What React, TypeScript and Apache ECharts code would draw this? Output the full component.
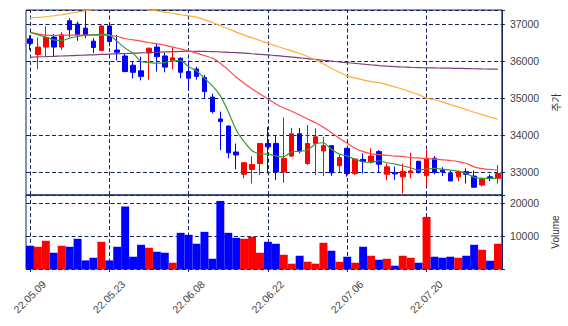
import React, { useEffect, useRef } from "react";
import * as echarts from "echarts";

const dates = [
  "22.05.09", "22.05.10", "22.05.11", "22.05.12", "22.05.13", "22.05.16", "22.05.17", "22.05.18", "22.05.19", "22.05.20",
  "22.05.23", "22.05.24", "22.05.25", "22.05.26", "22.05.27", "22.05.30", "22.05.31", "22.06.02", "22.06.03", "22.06.07",
  "22.06.08", "22.06.09", "22.06.10", "22.06.13", "22.06.14", "22.06.15", "22.06.16", "22.06.17", "22.06.20", "22.06.21",
  "22.06.22", "22.06.23", "22.06.24", "22.06.27", "22.06.28", "22.06.29", "22.06.30", "22.07.01", "22.07.04", "22.07.05",
  "22.07.06", "22.07.07", "22.07.08", "22.07.11", "22.07.12", "22.07.13", "22.07.14", "22.07.15", "22.07.18", "22.07.19",
  "22.07.20", "22.07.21", "22.07.22", "22.07.25", "22.07.26", "22.07.27", "22.07.28", "22.07.29", "22.08.01", "22.08.02",
];

const opens = [
  36600, 36180, 36380, 36650, 36380, 37090, 37000, 36890, 36540, 36290,
  36950, 36300, 36140, 35890, 35740, 36220, 36380, 36140, 36010, 36080,
  35720, 35790, 35560, 35030, 34440, 34250, 33550, 32950, 33080, 33240,
  33780, 33780, 33010, 33440, 34040, 33240, 33780, 33580, 33720, 33180,
  33650, 32970, 33350, 33290, 33560, 32950, 32990, 32880, 32990, 33300,
  32910, 33380, 33060, 32970, 32880, 33020, 32900, 32660, 32880, 32840,
];
const closes = [
  36480, 36380, 36640, 36380, 36710, 36850, 36710, 36720, 36370, 36950,
  36530, 36240, 35720, 35700, 35590, 36350, 36120, 35840, 36090, 35700,
  35540, 35590, 35180, 34640, 34370, 33530, 33470, 33260, 33210, 33780,
  33690, 33010, 33380, 34040, 33580, 33780, 33960, 33720, 32990, 33400,
  32970, 33360, 33290, 33440, 33220, 33150, 32960, 33030, 33040, 33000,
  33380, 33000, 33010, 32770, 33020, 32950, 32600, 32820, 32850, 32970,
];
const lows = [
  36300, 35780, 36120, 36120, 36300, 36650, 36550, 36620, 36220, 36280,
  36400, 36020, 35700, 35540, 35480, 35500, 35720, 35700, 35780, 35540,
  35240, 35500, 35000, 34590, 33600, 33380, 33080, 32840, 32700, 32930,
  32970, 32790, 32720, 33420, 33510, 33200, 32930, 32900, 32900, 33000,
  32880, 32930, 32970, 33240, 33000, 32790, 32800, 32430, 32840, 32970,
  32660, 32950, 32900, 32760, 32760, 32700, 32590, 32620, 32760, 32700,
];
const highs = [
  36700, 36640, 36940, 36730, 36780, 37160, 37070, 37360, 36620, 36960,
  36980, 36710, 36200, 36000, 36120, 36360, 36490, 36220, 36370, 36100,
  36020, 35850, 35630, 35120, 34640, 34260, 33780, 33270, 33440, 33790,
  34220, 34010, 34480, 34200, 34200, 34280, 34190, 33960, 33730, 33500,
  33660, 33380, 33510, 33650, 33600, 33240, 33160, 33240, 33530, 33310,
  33600, 33440, 33140, 33050, 33050, 33110, 33050, 32860, 32950, 33200,
];
const volumes = [
  7060, 6760, 8580, 4940, 7060, 6760, 9180, 2610, 3420, 8270,
  2610, 6760, 18970, 3730, 7360, 6450, 5240, 4940, 1910, 11000,
  10390, 7670, 11300, 3120, 20700, 11000, 9480, 9180, 9790, 4940,
  8270, 7670, 4330, 1610, 4030, 2210, 1610, 7970, 5550, 2210,
  3730, 1910, 6760, 4030, 2820, 3120, 1000, 4030, 3420, 1910,
  15850, 3730, 3420, 3730, 3420, 4030, 7360, 5850, 2520, 7670,
];
const ma5 = [
  36780, 36710, 36650, 36576, 36557, 36622, 36665, 36692, 36711, 36730,
  36711, 36530, 36352, 36217, 35990, 35963, 35946, 35963, 36008, 36017,
  35855, 35738, 35541, 35333, 35063, 34638, 34143, 33827, 33584, 33495,
  33495, 33441, 33422, 33557, 33566, 33603, 33765, 33800, 33622, 33495,
  33441, 33351, 33287, 33270, 33314, 33260, 33224, 33178, 33124, 33062,
  33089, 33108, 33089, 33062, 33035, 32973, 32865, 32838, 32838, 32840,
];
const ma20 = [
  36774, 36738, 36703, 36692, 36700, 36700, 36705, 36705, 36700, 36700,
  36695, 36665, 36611, 36576, 36541, 36503, 36468, 36433, 36379, 36333,
  36279, 36217, 36152, 36081, 35946, 35765, 35568, 35406, 35252, 35117,
  34981, 34846, 34738, 34649, 34549, 34441, 34341, 34216, 34070, 33919,
  33784, 33650, 33560, 33500, 33480, 33460, 33440, 33430, 33400, 33390,
  33370, 33360, 33340, 33320, 33290, 33240, 33150, 33100, 33080, 33060,
];
const ma60 = [
  37163, 37180, 37198, 37225, 37252, 37288, 37325, 37360, 37387, 37410,
  37430, 37440, 37440, 37430, 37410, 37385, 37360, 37325, 37293, 37252,
  37225, 37190, 37117, 37044, 36955, 36873, 36784, 36703, 36630, 36557,
  36487, 36414, 36341, 36279, 36206, 36125, 36035, 35927, 35811, 35703,
  35603, 35541, 35495, 35449, 35422, 35368, 35306, 35243, 35171, 35098,
  35000, 34960, 34900, 34827, 34765, 34692, 34622, 34557, 34495, 34433,
];
const ma120 = [
  36108, 36115, 36122, 36130, 36139, 36147, 36156, 36164, 36172, 36181,
  36190, 36198, 36206, 36215, 36223, 36231, 36240, 36248, 36256, 36262,
  36268, 36265, 36262, 36258, 36248, 36238, 36228, 36217, 36200, 36184,
  36168, 36150, 36130, 36110, 36090, 36068, 36046, 36025, 36003, 35980,
  35960, 35940, 35920, 35900, 35882, 35868, 35855, 35842, 35832, 35826,
  35820, 35817, 35814, 35810, 35806, 35800, 35795, 35790, 35787, 35784,
];
const xTickIndex = [0, 10, 20, 30, 40, 50];
const priceTicks = [33000, 34000, 35000, 36000, 37000];
const volumeTicks = [10000, 20000];

const UP = "#ff0000";
const DOWN = "#0000ff";
const NAVY = "#14235f";
const DASH = [4, 2.5];

export default function App() {
  const ref = useRef<HTMLDivElement>(null);
  useEffect(() => {
    const chart = echarts.init(ref.current!, null, { renderer: "svg" });
    const candle = opens.map((o, i) => [o, closes[i], lows[i], highs[i]]);
    const volData = volumes.map((v, i) => ({
      value: v,
      itemStyle: { color: closes[i] >= opens[i] ? UP : DOWN },
    }));
    const vLines = xTickIndex.map((i) => ({ xAxis: dates[i] }));
    const markLine = {
      silent: true,
      z: 1,
      symbol: ["none", "none"],
      label: { show: false },
      lineStyle: { color: NAVY, type: DASH, width: 1 },
      emphasis: { disabled: true },
      data: vLines,
    };
    const labelStyle = { color: "#444", fontSize: 10.5, fontFamily: "Liberation Sans" };
    const ma = (data: number[], color: string, name: string) => ({
      name,
      type: "line",
      xAxisIndex: 0,
      yAxisIndex: 0,
      data,
      showSymbol: false,
      smooth: 0.2,
      lineStyle: { color, width: 1.2 },
      silent: true,
      z: 3,
    });
    chart.setOption({
      animation: false,
      backgroundColor: "#ffffff",
      grid: [
        { left: 26, right: 64, top: 10, bottom: 131, show: true, borderColor: NAVY, borderWidth: 1 },
        { left: 26, right: 64, top: 195, bottom: 57, show: true, borderColor: NAVY, borderWidth: 1 },
      ],
      xAxis: [
        {
          type: "category", gridIndex: 0, data: dates, boundaryGap: true,
          axisLine: { show: false }, axisTick: { show: false }, axisLabel: { show: false }, splitLine: { show: false },
        },
        {
          type: "category", gridIndex: 1, data: dates, boundaryGap: true,
          axisLine: { show: false },
          axisTick: { show: true, alignWithLabel: true, interval: 9, length: 3, lineStyle: { color: NAVY } },
          axisLabel: { ...labelStyle, interval: 9, rotate: 45, margin: 28, align: "center", verticalAlign: "middle" },
          splitLine: { show: false },
        },
      ],
      yAxis: [
        {
          type: "value", gridIndex: 0, position: "right", min: 32390, max: 37380, splitNumber: 5,
          name: "주가", nameLocation: "middle", nameRotate: 90, nameGap: 44,
          nameTextStyle: { color: "#333", fontSize: 10, fontFamily: "Noto Sans CJK KR" },
          axisLine: { show: true, lineStyle: { color: NAVY } },
          axisTick: { show: true, length: 3, lineStyle: { color: NAVY } },
          axisLabel: {
            ...labelStyle, margin: 8,
            formatter: (v: number) => (priceTicks.includes(Math.round(v)) ? String(Math.round(v)) : ""),
          },
          splitLine: { show: true, lineStyle: { color: NAVY, type: DASH, width: 1 } },
        },
        {
          type: "value", gridIndex: 1, position: "right", min: 0, max: 22500, interval: 10000,
          name: "Volume", nameLocation: "middle", nameRotate: 90, nameGap: 44,
          nameTextStyle: { color: "#333", fontSize: 10, fontFamily: "Liberation Sans" },
          axisLine: { show: true, lineStyle: { color: NAVY } },
          axisTick: { show: true, length: 3, lineStyle: { color: NAVY } },
          axisLabel: {
            ...labelStyle, margin: 8,
            formatter: (v: number) => (volumeTicks.includes(Math.round(v)) ? String(Math.round(v)) : ""),
          },
          splitLine: { show: true, lineStyle: { color: NAVY, type: DASH, width: 1 } },
        },
      ],
      series: [
        {
          name: "Price",
          type: "candlestick",
          xAxisIndex: 0,
          yAxisIndex: 0,
          data: candle,
          barWidth: 5,
          itemStyle: { color: UP, color0: DOWN, borderColor: UP, borderColor0: DOWN, borderWidth: 1 },
          markLine,
          z: 2,
        },
        ma(ma120, "#7d4079", "MA120"),
        ma(ma60, "#ffad33", "MA60"),
        ma(ma20, "#ff4a4a", "MA20"),
        ma(ma5, "#359a35", "MA5"),
        {
          name: "Volume",
          type: "bar",
          xAxisIndex: 1,
          yAxisIndex: 1,
          data: volData,
          barWidth: "100%",
          barCategoryGap: 0,
          markLine,
          z: 2,
        },
      ],
    });
    return () => chart.dispose();
  }, []);
  return (
    <div
      ref={ref}
      style={{ position: "fixed", left: 0, top: 0, width: 568, height: 326, background: "#fff" }}
    />
  );
}
